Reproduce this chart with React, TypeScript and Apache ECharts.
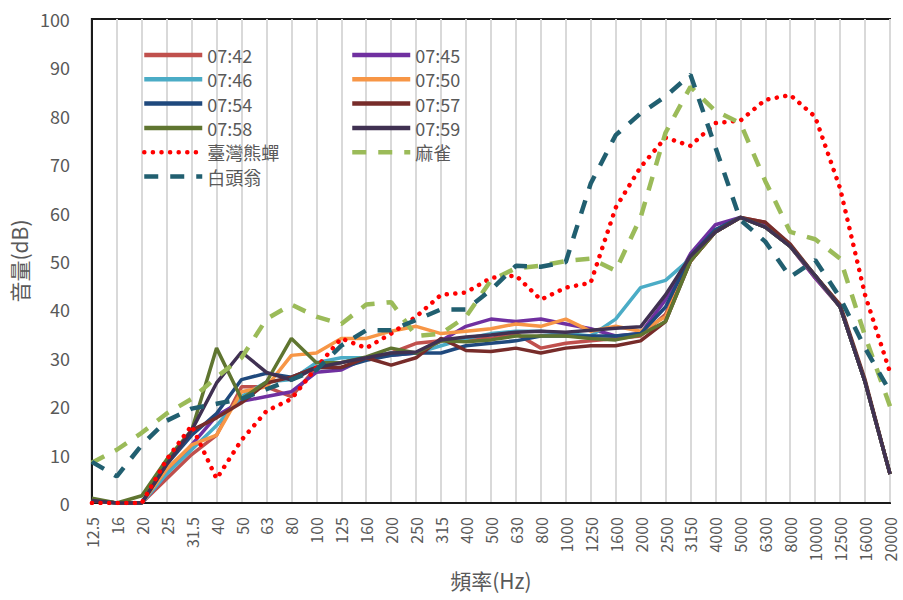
import React, { useEffect, useRef } from "react";
import * as echarts from "echarts";

const categories = ["12.5","16","20","25","31.5","40","50","63","80","100","125","160","200","250","315","400","500","630","800","1000","1250","1600","2000","2500","3150","4000","5000","6300","8000","10000","12500","16000","20000"];

const s0742 = [0.5,0,0,5,10,14,24,24,22,28,29,30,31,33,33.5,34,34,35,32,33,33.5,34,34.5,39,50,56,59,58,53,46.5,40.5,25,6];
const s0745 = [0.5,0,0,6,12,18,21,22,23,27,27.5,30,30.5,31,33.5,36.5,38,37.5,38,37,36,34.5,35,42,51.5,57.5,59,57.5,53,46.5,40.5,25,6];
const s0746 = [0.5,0,0,6,11,16,22,25,25.5,29,30,30,31,31,32.5,34,35,35.5,35.5,35,34.5,38,44.5,46,50.5,56,59,57,53,47,40.5,25,6];
const s0750 = [0.5,0,0,7,12,14,23,24,30.5,31,34,34,35.5,36.5,35,35.5,36,37,36.5,38,35.5,36.5,35.5,38.5,50,56,59,57,53,47,40.5,25,6];
const s0754 = [0.5,0,0,8,14,18.5,25.5,26.8,26,28,28,29.5,30.5,31,31,32.5,33,33.5,34.5,34.5,34.5,34.5,35,40.5,51,56.5,59,57,53,47,40.5,25,6];
const s0757 = [0.5,0,0,8.5,15,17.6,20.7,24.8,26,28,28,30,28.5,30,34,31.5,31.3,32,31,32,32.5,32.5,33.5,37.5,50,56,59,58,53.5,47,41,25.5,6];
const s0758 = [1,0,1.5,9,15,32,21.5,25,34,29,29,30.2,32,31,33.5,33.3,33.7,34.5,34.5,34.5,34,33.7,34.7,37.5,50,56,59,57,53,47,40.5,25,6];
const s0759 = [0.5,0,0,8,15,24.8,31.2,27,25.4,28,29,30,31,31.2,33.7,34.3,34.7,35.3,35.5,35.3,35.7,36.1,36.4,43,51,56,59,57,53,47,40.5,25,6];
const cicada = [0,0,0,9,16,5,13,19,21.5,28,34,32,35,38.5,43,43.5,46.5,47,42,44.5,45.5,61,69.4,75.5,73.8,78.5,79,83.3,84.3,79.8,65,43,27];
const sparrow = [8.3,11,14.5,18.5,21.5,26,30,38,41,38.5,37,41,41.5,34.5,35,38.5,46,48.5,49,50,50.5,48,59,76.5,86,81,78.5,66.5,56,54.5,50.5,34.5,20];
const bulbul = [8.5,5.5,12,17,19.5,20.5,21.5,23.5,25.5,27.5,32.5,35.7,35.7,37.8,40,40,44,49,48.8,49.8,66,76,80.5,84,88.5,73.5,58.5,54,46.7,50.2,42.4,32,23];

const yTicks = [0, 10, 20, 30, 40, 50, 60, 70, 80, 90, 100];

const FONT = "'Noto Sans CJK TC', 'Noto Sans', sans-serif";
const GRAY = "#595959";

export default function App() {
  const ref = useRef<HTMLDivElement>(null);
  useEffect(() => {
    if (!ref.current) return;
    const chart = echarts.init(ref.current, null, { renderer: "svg" });
    const solid = (name: string, data: number[], color: string) => ({
      name, type: "line", data, symbol: "none", smooth: false,
      lineStyle: { color, width: 3.5, type: "solid" },
      itemStyle: { color },
    });
    const series: any[] = [
      solid("07:42", s0742, "#C0504D"),
      solid("07:45", s0745, "#7030A0"),
      solid("07:46", s0746, "#4BACC6"),
      solid("07:50", s0750, "#F79646"),
      solid("07:54", s0754, "#1F497D"),
      solid("07:57", s0757, "#772C2A"),
      solid("07:58", s0758, "#5F7530"),
      solid("07:59", s0759, "#403152"),
      {
        name: "臺灣熊蟬", type: "line", data: cicada, symbol: "none",
        lineStyle: { color: "#FF0000", width: 4.5, type: [0.1, 8.5], cap: "round" },
        itemStyle: { color: "#FF0000" },
      },
      {
        name: "麻雀", type: "line", data: sparrow, symbol: "none",
        lineStyle: { color: "#9BBB59", width: 4.5, type: [14, 12], cap: "butt" },
        itemStyle: { color: "#9BBB59" },
      },
      {
        name: "白頭翁", type: "line", data: bulbul, symbol: "none",
        lineStyle: { color: "#215F70", width: 4.5, type: [14, 12], cap: "butt" },
        itemStyle: { color: "#215F70" },
      },
    ];
    const legendCommon = {
      orient: "vertical",
      top: 45,
      padding: 0,
      itemWidth: 58,
      itemHeight: 14,
      itemGap: 4.3,
      itemStyle: { opacity: 0 },
      lineStyle: { width: 4.5 },
      textStyle: { color: GRAY, fontSize: 18, fontFamily: FONT, lineHeight: 20 },
    };
    chart.setOption({
      animation: false,
      backgroundColor: "#ffffff",
      textStyle: { fontFamily: FONT },
      grid: {
        left: 90, right: 13, top: 19, bottom: 97,
        show: true, borderColor: "#1a1a1a", borderWidth: 2, backgroundColor: "transparent",
      },
      legend: [
        { ...legendCommon, left: 142, data: ["07:42", "07:46", "07:54", "07:58", "臺灣熊蟬", "白頭翁"] },
        { ...legendCommon, left: 350, data: ["07:45", "07:50", "07:57", "07:59", "麻雀"] },
      ],
      xAxis: {
        type: "category",
        data: categories,
        boundaryGap: false,
        name: "頻率(Hz)",
        nameLocation: "middle",
        nameGap: 64,
        nameTextStyle: { color: GRAY, fontSize: 21, fontFamily: FONT },
        axisLine: { show: true, lineStyle: { color: "#1a1a1a", width: 2 } },
        axisTick: { show: false },
        axisLabel: { rotate: 90, color: GRAY, fontSize: 16, fontFamily: FONT, margin: 14, interval: 0 },
        splitLine: { show: true, interval: 0, lineStyle: { color: "#d9d9d9", width: 2 } },
      },
      yAxis: {
        type: "value",
        min: yTicks[0],
        max: yTicks[yTicks.length - 1],
        interval: 10,
        name: "音量(dB)",
        nameLocation: "middle",
        nameGap: 58,
        nameRotate: 90,
        nameTextStyle: { color: GRAY, fontSize: 21, fontFamily: FONT },
        axisLine: { show: true, lineStyle: { color: "#1a1a1a", width: 2 } },
        axisTick: { show: false },
        axisLabel: { color: GRAY, fontSize: 18, fontFamily: FONT, margin: 22 },
        splitLine: { show: false },
      },
      series,
    });
    return () => chart.dispose();
  }, []);
  return (
    <div
      ref={ref}
      style={{ position: "fixed", left: 0, top: 0, width: 903, height: 600, background: "#fff" }}
    />
  );
}
